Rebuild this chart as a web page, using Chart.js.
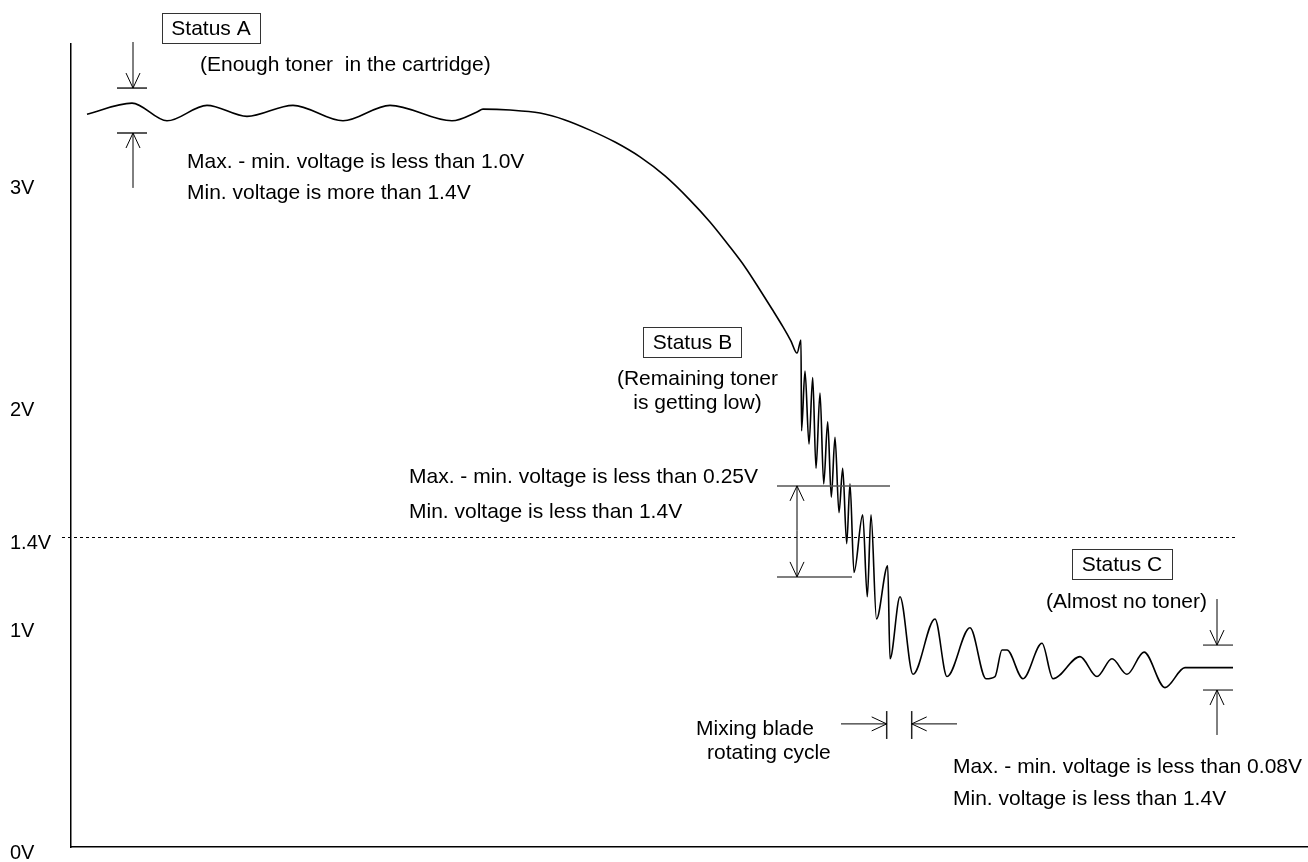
<!DOCTYPE html>
<html>
<head>
<meta charset="utf-8">
<script src="https://cdn.jsdelivr.net/npm/chart.js@4.4.1/dist/chart.umd.min.js"></script>
<style>
  html, body { margin: 0; padding: 0; background: #fff; }
</style>
</head>
<body>
<canvas id="chart" width="1308" height="862"></canvas>
<script>
// sensor output over time (time in arbitrary units, voltage in V)
const timeUnits = [
  16, 61, 96, 136, 176, 222, 272, 319, 381, 406, 412,
  439, 469, 494, 519, 544, 569, 594, 619, 639, 659, 674, 689, 701, 712, 720, 726,
  730, 730.5, 734, 738, 741.7, 745, 749, 752.7, 756.7, 760.3, 764, 768,
  771.7, 775.7, 779, 783, 791.7, 796.3, 800, 805.5, 816.7, 819, 829,
  842, 864, 876, 899, 915, 924, 931, 936, 952, 971, 982, 1009, 1026,
  1041, 1056, 1073, 1094, 1114, 1162
];
const voltage = [
  3.31, 3.36, 3.28, 3.35, 3.30, 3.35, 3.28, 3.35, 3.28, 3.32, 3.333,
  3.329, 3.315, 3.284, 3.238, 3.184, 3.117, 3.031, 2.922, 2.823, 2.710, 2.620, 2.516, 2.430, 2.349, 2.285, 2.231,
  2.29, 1.88, 2.15, 1.82, 2.12, 1.71, 2.05, 1.64, 1.92, 1.58, 1.85, 1.51,
  1.71, 1.37, 1.64, 1.24, 1.50, 1.13, 1.50, 1.03, 1.27, 0.85, 1.13,
  0.78, 1.03, 0.77, 0.99, 0.76, 0.77, 0.89, 0.89, 0.76, 0.92, 0.76, 0.86, 0.77,
  0.85, 0.78, 0.88, 0.72, 0.81, 0.81
];
const voltTicks = [0, 1, 1.4, 2, 3];
const timeRange = [0, 1237];
const voltRange = [0, 3.627];
const threshold = 1.4;
const thresholdSpan = [-9, 1166];

// status captions (boxed)
const statusBoxes = [
  { text: 'Status A', t: 140, v: 3.699 },
  { text: 'Status B', t: 621.5, v: 2.281 },
  { text: 'Status C', t: 1051, v: 1.276 }
];
// plain text notes
const notes = [
  { text: '(Enough toner  in the cartridge)', t: 129, v: 3.532, align: 'left' },
  { text: 'Max. - min. voltage is less than 1.0V', t: 116, v: 3.094, align: 'left' },
  { text: 'Min. voltage is more than 1.4V', t: 116, v: 2.954, align: 'left' },
  { text: '(Remaining toner', t: 626.5, v: 2.114, align: 'center' },
  { text: 'is getting low)', t: 626.5, v: 2.005, align: 'center' },
  { text: 'Max. - min. voltage is less than 0.25V', t: 338, v: 1.671, align: 'left' },
  { text: 'Min. voltage is less than 1.4V', t: 338, v: 1.513, align: 'left' },
  { text: '(Almost no toner)', t: 1055.5, v: 1.107, align: 'center' },
  { text: 'Mixing blade', t: 625, v: 0.533, align: 'left' },
  { text: 'rotating cycle', t: 636, v: 0.425, align: 'left' },
  { text: 'Max. - min. voltage is less than 0.08V', t: 882, v: 0.361, align: 'left' },
  { text: 'Min. voltage is less than 1.4V', t: 882, v: 0.217, align: 'left' }
];
// max / min bound marks and cycle ticks
const boundLines = [
  { t0: 46, t1: 76, v0: 3.428, v1: 3.428, color: '#222' },
  { t0: 46, t1: 76, v0: 3.225, v1: 3.225, color: '#222' },
  { t0: 706, t1: 819, v0: 1.631, v1: 1.631, color: '#555' },
  { t0: 706, t1: 781, v0: 1.220, v1: 1.220, color: '#555' },
  { t0: 1132, t1: 1162, v0: 0.912, v1: 0.912, color: '#555' },
  { t0: 1132, t1: 1162, v0: 0.709, v1: 0.709, color: '#555' },
  { t0: 815.7, t1: 815.7, v0: 0.488, v1: 0.614, color: '#222' },
  { t0: 840.7, t1: 840.7, v0: 0.488, v1: 0.614, color: '#222' }
];
// arrows: tail -> tip
const arrows = [
  { t0: 62, v0: 3.636, t1: 62, v1: 3.428 },
  { t0: 62, v0: 2.977, t1: 62, v1: 3.225 },
  { t0: 726, v0: 1.43, t1: 726, v1: 1.631 },
  { t0: 726, v0: 1.43, t1: 726, v1: 1.220 },
  { t0: 1146, v0: 1.120, t1: 1146, v1: 0.912 },
  { t0: 1146, v0: 0.506, t1: 1146, v1: 0.709 },
  { t0: 770, v0: 0.556, t1: 815.7, v1: 0.556 },
  { t0: 886, v0: 0.556, t1: 840.7, v1: 0.556 }
];

const FONT = '"Liberation Sans", Arial, sans-serif';

function arrow(ctx, x0, y0, x1, y1) {
  const a = Math.atan2(y1 - y0, x1 - x0);
  const len = 15, half = 7;
  ctx.beginPath();
  ctx.moveTo(x0, y0);
  ctx.lineTo(x1, y1);
  const bx = x1 - len * Math.cos(a), by = y1 - len * Math.sin(a);
  ctx.moveTo(bx + half * Math.sin(a), by - half * Math.cos(a));
  ctx.lineTo(x1, y1);
  ctx.lineTo(bx - half * Math.sin(a), by + half * Math.cos(a));
  ctx.stroke();
}

const notesPlugin = {
  id: 'diagramNotes',
  beforeDatasetsDraw(chart) {
    const { ctx, scales: { x, y } } = chart;
    ctx.save();
    ctx.strokeStyle = '#000';
    ctx.lineWidth = 1;
    ctx.setLineDash([3, 3]);
    const py = Math.round(y.getPixelForValue(threshold)) + 0.5;
    ctx.beginPath();
    ctx.moveTo(x.getPixelForValue(thresholdSpan[0]), py);
    ctx.lineTo(x.getPixelForValue(thresholdSpan[1]), py);
    ctx.stroke();
    ctx.restore();
  },
  afterDatasetsDraw(chart) {
    const { ctx, scales: { x, y } } = chart;
    ctx.save();
    ctx.font = '21px ' + FONT;
    ctx.fillStyle = '#000';
    ctx.textBaseline = 'middle';

    statusBoxes.forEach(b => {
      const cx = x.getPixelForValue(b.t), cy = y.getPixelForValue(b.v);
      const w = ctx.measureText(b.text).width + 19, h = 30;
      ctx.strokeStyle = '#333';
      ctx.lineWidth = 1;
      ctx.strokeRect(Math.round(cx - w / 2) + 0.5, Math.round(cy - h / 2) + 0.5, Math.round(w), h);
      ctx.textAlign = 'center';
      ctx.fillText(b.text, cx, cy + 1);
    });

    notes.forEach(n => {
      ctx.textAlign = n.align;
      ctx.fillText(n.text, x.getPixelForValue(n.t), y.getPixelForValue(n.v));
    });

    ctx.lineWidth = 1.5;
    boundLines.forEach(l => {
      ctx.strokeStyle = l.color;
      ctx.beginPath();
      ctx.moveTo(x.getPixelForValue(l.t0), y.getPixelForValue(l.v0));
      ctx.lineTo(x.getPixelForValue(l.t1), y.getPixelForValue(l.v1));
      ctx.stroke();
    });

    ctx.strokeStyle = '#000';
    ctx.lineWidth = 1;
    arrows.forEach(a => arrow(ctx,
      x.getPixelForValue(a.t0), y.getPixelForValue(a.v0),
      x.getPixelForValue(a.t1), y.getPixelForValue(a.v1)));
    ctx.restore();
  }
};

new Chart(document.getElementById('chart'), {
  type: 'line',
  data: {
    datasets: [{
      data: timeUnits.map((t, i) => ({ x: t, y: voltage[i] })),
      borderColor: '#000',
      borderWidth: 1.6,
      pointRadius: 0,
      cubicInterpolationMode: 'monotone',
      fill: false
    }]
  },
  options: {
    responsive: false,
    animation: false,
    devicePixelRatio: 1,
    layout: { padding: { left: 10, top: 44, right: 0, bottom: 15 } },
    plugins: { legend: { display: false }, tooltip: { enabled: false } },
    scales: {
      x: {
        type: 'linear',
        min: timeRange[0],
        max: timeRange[1],
        grid: { display: false },
        border: { display: true, color: '#000', width: 1.5 },
        ticks: { display: false },
        afterFit: s => { s.height = 0; }
      },
      y: {
        type: 'linear',
        min: voltRange[0],
        max: voltRange[1],
        grid: { display: false },
        border: { display: true, color: '#000', width: 1.5 },
        afterBuildTicks: s => { s.ticks = voltTicks.map(v => ({ value: v })); },
        ticks: {
          callback: v => v + 'V',
          color: '#000',
          font: { family: FONT, size: 20 },
          crossAlign: 'far',
          labelOffset: 6,
          padding: 0
        },
        afterFit: s => { s.width = 61; }
      }
    }
  },
  plugins: [notesPlugin]
});
</script>
</body>
</html>
